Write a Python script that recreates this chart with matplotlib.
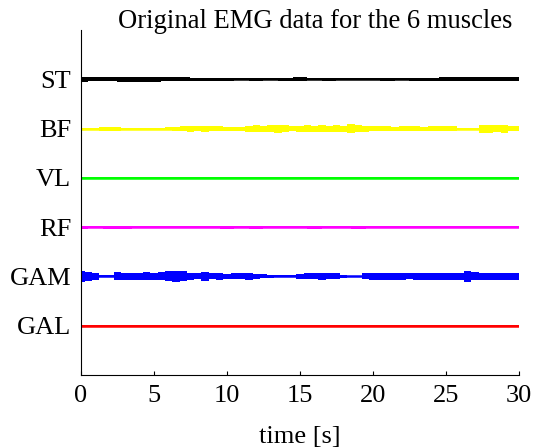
import numpy as np
from matplotlib import pyplot as plt

plt.rcParams['font.family'] = ['Liberation Serif', 'DejaVu Serif']

# muscles from top to bottom, with the trace colours
muscles = ["ST", "BF", "VL", "RF", "GAM", "GAL"]
colors = ["#000000", "#ffff00", "#00ff00", "#ff00ff", "#0000ff", "#ff0000"]
offsets = [6, 5, 4, 3, 2, 1]

# half-width of each EMG trace (in channel units)
t_fine = np.arange(0, 30.5, 0.5)
t_coarse = np.arange(0, 31, 1.0)

st_amp = [0.05, 0.04, 0.04, 0.05, 0.05, 0.05, 0.04, 0.04, 0.03, 0.03, 0.03,
          0.02, 0.03, 0.02, 0.03, 0.04, 0.02, 0.03, 0.02, 0.02, 0.02,
          0.03, 0.02, 0.03, 0.03, 0.04, 0.04, 0.04, 0.04, 0.04, 0.04]
bf_amp = [0.02, 0.02, 0.02, 0.04, 0.04, 0.04, 0.015, 0.015, 0.015, 0.015, 0.015,
          0.015, 0.03, 0.04, 0.05, 0.06, 0.05, 0.06, 0.05, 0.05, 0.04,
          0.04, 0.04, 0.06, 0.07, 0.06, 0.07, 0.08, 0.07, 0.05, 0.06,
          0.07, 0.06, 0.07, 0.06, 0.07, 0.06, 0.09, 0.07, 0.06, 0.05,
          0.05, 0.05, 0.04, 0.05, 0.05, 0.05, 0.04, 0.05, 0.05, 0.05,
          0.05, 0.02, 0.02, 0.02, 0.08, 0.08, 0.07, 0.08, 0.05, 0.05]
vl_amp = [0.015, 0.01, 0.015, 0.015, 0.015, 0.02, 0.02, 0.02, 0.015, 0.02, 0.025,
          0.025, 0.02, 0.015, 0.015, 0.015, 0.02, 0.025, 0.02, 0.015, 0.015,
          0.02, 0.015, 0.02, 0.015, 0.015, 0.015, 0.02, 0.02, 0.02, 0.02]
rf_amp = [0.03, 0.025, 0.03, 0.03, 0.025, 0.025, 0.025, 0.025, 0.02, 0.025, 0.03,
          0.025, 0.03, 0.025, 0.025, 0.025, 0.03, 0.025, 0.025, 0.03, 0.025,
          0.025, 0.025, 0.025, 0.025, 0.025, 0.02, 0.02, 0.025, 0.02, 0.02]
gam_amp = [0.12, 0.09, 0.07, 0.02, 0.02, 0.08, 0.07, 0.07, 0.07, 0.08, 0.07,
           0.08, 0.10, 0.12, 0.10, 0.07, 0.06, 0.09, 0.06, 0.07, 0.05,
           0.06, 0.06, 0.07, 0.05, 0.04, 0.03, 0.02, 0.02, 0.02, 0.05,
           0.06, 0.06, 0.07, 0.06, 0.06, 0.03, 0.01, 0.01, 0.06, 0.07,
           0.07, 0.07, 0.07, 0.07, 0.06, 0.07, 0.07, 0.07, 0.07, 0.07,
           0.07, 0.07, 0.11, 0.08, 0.07, 0.07, 0.07, 0.07, 0.07, 0.07]
gal_amp = [0.015] * 31

amps = [st_amp, bf_amp, vl_amp, rf_amp, gam_amp, gal_amp]

fig = plt.figure(figsize=(5.4, 4.48), dpi=100)
ax = fig.add_axes([0.15, 0.163, 0.811, 0.77])

for amp, off, col in zip(amps, offsets, colors):
    amp = np.array(amp)
    t = t_fine if len(amp) == len(t_fine) else t_coarse
    ax.fill_between(t, off - amp, off + amp, step='mid', color=col, lw=0)
    ax.plot([0, 30], [off, off], color=col, lw=1.8)

ax.set_xlim(0, 30)
ax.set_ylim(0, 7)
ax.set_xticks(range(0, 31, 5))
ax.set_yticks(offsets)
ax.set_yticklabels(muscles)
ax.spines['top'].set_visible(False)
ax.spines['right'].set_visible(False)
ax.tick_params(direction='in', length=3, labelsize=19, pad=7)
ax.set_xlabel("time [s]", fontsize=19, labelpad=14)
fig.text(315 / 540, 1 - 22 / 448, "Original EMG data for the 6 muscles",
         ha='center', va='center', fontsize=19.2)

fig.savefig("out.png", dpi=100)
